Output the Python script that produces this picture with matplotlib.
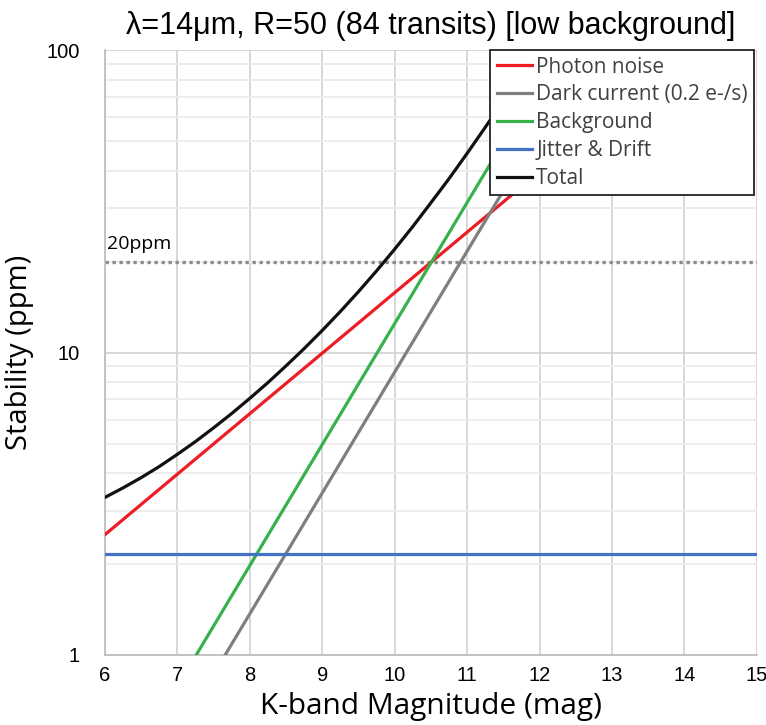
import matplotlib.pyplot as plt
from matplotlib.lines import Line2D

# magnitudes and stability values (ppm)
mag_ends = [6, 15]
photon_ends = [2.5, 158.0]
dark_ends = [0.217, 860.0]
background_ends = [0.313, 1250.0]
jitter_ends = [2.15, 2.15]

total_mag = [6, 6.25, 6.5, 6.75, 7, 7.25, 7.5, 7.75, 8, 8.25, 8.5, 8.75, 9, 9.25,
             9.5, 9.75, 10, 10.25, 10.5, 10.75, 11, 11.25, 11.5, 11.75, 12, 12.5]
total_ppm = [3.32, 3.57, 3.86, 4.20, 4.61, 5.08, 5.64, 6.29, 7.06, 7.96, 9.04, 10.31,
             11.84, 13.68, 15.91, 18.64, 21.99, 26.12, 31.3, 37.6, 45.6, 55.6, 68.1,
             83.9, 103.6, 159.7]

limit_ppm = 20
xticks = list(range(6, 16))

series = [
    ("Photon noise", photon_ends, "#ee1c25"),
    ("Dark current (0.2 e-/s)", dark_ends, "#7f7f80"),
    ("Background", background_ends, "#38b14a"),
    ("Jitter & Drift", jitter_ends, "#4472c4"),
]

tickfont = "Liberation Sans"

fig = plt.figure(figsize=(7.66, 7.25), dpi=100)
ax = fig.add_axes([0.137, 0.0966, 0.851, 0.834])
ax.set_yscale("log")
ax.set_xlim(6, 15)
ax.set_ylim(1, 100)

# grid like an Excel chart
ax.set_xticks(xticks)
ax.set_yticks([1, 10, 100])
ax.set_yticklabels(["1", "10", "100"])
ax.yaxis.set_minor_formatter(plt.NullFormatter())
ax.grid(True, which="major", axis="both", color="#d4d4d4", lw=1.3)
ax.grid(True, which="minor", axis="y", color="#ececec", lw=1.3)
ax.tick_params(which="both", length=0, labelsize=14.5, labelfontfamily=tickfont)
ax.tick_params(axis="y", pad=18)
ax.tick_params(axis="x", pad=8)
for side in ["top", "right"]:
    ax.spines[side].set_visible(False)
for side in ["left", "bottom"]:
    ax.spines[side].set_color("#bfbfbf")
    ax.spines[side].set_linewidth(1.3)

ax.axhline(limit_ppm, color="#8c8c8c", lw=2.4, ls=(0, (1, 1.1)), zorder=2)
ax.text(6.03, 21.3, "20ppm", fontsize=14, family="Open Sans", va="bottom")

handles = []
for name, vals, col in series:
    ax.plot(mag_ends, vals, color=col, lw=2.3, zorder=3)
    handles.append(Line2D([], [], color=col, lw=2.3, label=name))
ax.plot(total_mag, total_ppm, color="#111111", lw=2.3, zorder=3,
        solid_joinstyle="round")
handles.append(Line2D([], [], color="#111111", lw=2.3, label="Total"))

leg = ax.legend(handles=handles, loc="upper right", bbox_to_anchor=(0.996, 1.0),
                frameon=True, fancybox=False, framealpha=1, edgecolor="#222222",
                prop={"family": "Open Sans", "size": 15}, labelspacing=0.33,
                handlelength=1.7, handletextpad=0.2, borderpad=0.3, borderaxespad=0)
leg.get_frame().set_linewidth(1.3)
for t in leg.get_texts():
    t.set_color("#404040")
leg.set_zorder(5)

ax.set_title("λ=14μm, R=50 (84 transits) [low background]", family=tickfont,
             fontsize=22, pad=12)
ax.set_xlabel("K-band Magnitude (mag)", family="Open Sans", fontsize=21.5, labelpad=5)
ax.set_ylabel("Stability (ppm)", family="Open Sans", fontsize=21, labelpad=9)

fig.savefig("out.png", dpi=100)
